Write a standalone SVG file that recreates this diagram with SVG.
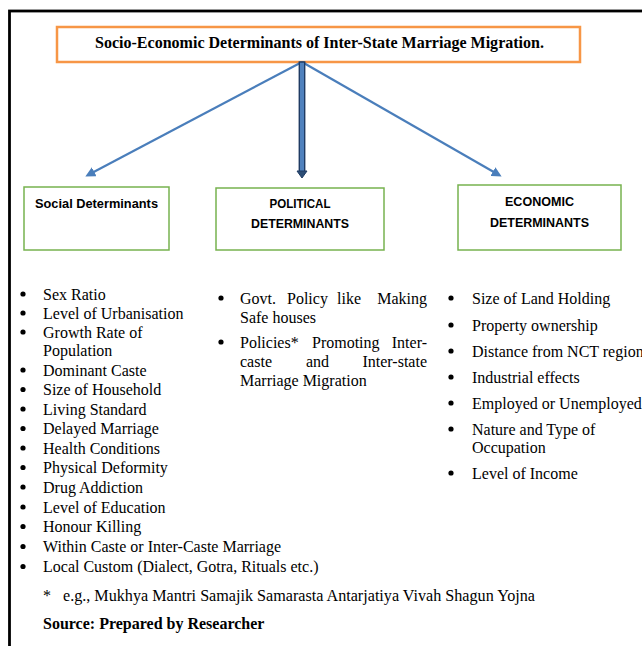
<svg xmlns="http://www.w3.org/2000/svg" width="642" height="646" viewBox="0 0 642 646">
<style>
.t{font-family:"Liberation Serif","Times New Roman",serif;font-size:16px;fill:#000}
.b{font-weight:bold}
.h{font-family:"Liberation Sans",Arial,sans-serif;font-size:12.5px;font-weight:bold;fill:#000;text-anchor:middle}
.box{fill:#fff;stroke:#77B24F;stroke-width:1.5}
.ln{stroke:#4A7EBB;stroke-width:2.2;fill:none}
</style>
<defs>
<marker id="ah" markerWidth="10" markerHeight="10" refX="7" refY="5" orient="auto" markerUnits="userSpaceOnUse"><path d="M0,0 L10,5 L0,10 Z" fill="#4A7EBB"/></marker>
</defs>
<rect x="0" y="0" width="642" height="646" fill="#fff"/>
<rect x="9.5" y="11" width="700" height="700" fill="none" stroke="#000" stroke-width="2.8"/>
<g id="title">
<rect x="57" y="27" width="523" height="35" fill="#fff" stroke="#F79646" stroke-width="2.5"/>
<text class="t b" x="319.5" y="48" text-anchor="middle" font-size="17" textLength="449" lengthAdjust="spacingAndGlyphs">Socio-Economic Determinants of Inter-State Marriage Migration.</text>
</g>
<g id="connectors">
<line class="ln" x1="302" y1="62" x2="88" y2="175" marker-end="url(#ah)"/>
<line class="ln" x1="302" y1="62" x2="499" y2="175" marker-end="url(#ah)"/>
<rect x="299.3" y="62" width="5.4" height="110" fill="#4F81BD" stroke="#1F3B63" stroke-width="1.4"/>
<path d="M297,171 L307,171 L302,178 Z" fill="#2C4D75" stroke="#1F3B63" stroke-width="1"/>
</g>
<g id="social">
<rect class="box" x="24" y="187" width="145" height="63"/>
<text class="h" x="96.5" y="208" textLength="123" lengthAdjust="spacingAndGlyphs">Social Determinants</text>
</g>
<g id="political">
<rect class="box" x="216" y="188" width="168" height="62"/>
<text class="h" x="300" y="208" textLength="61" lengthAdjust="spacingAndGlyphs">POLITICAL</text>
<text class="h" x="300" y="228" textLength="98" lengthAdjust="spacingAndGlyphs">DETERMINANTS</text>
</g>
<g id="economic">
<rect class="box" x="458" y="185" width="163" height="65"/>
<text class="h" x="539.5" y="206" textLength="69" lengthAdjust="spacingAndGlyphs">ECONOMIC</text>
<text class="h" x="539.5" y="227" textLength="99" lengthAdjust="spacingAndGlyphs">DETERMINANTS</text>
</g>
<g id="social-list" fill="#000">
<circle cx="23" cy="294" r="2.6"/><text class="t" x="43" y="299.5">Sex Ratio</text>
<circle cx="23" cy="313" r="2.6"/><text class="t" x="43" y="318.5">Level of Urbanisation</text>
<circle cx="23" cy="332" r="2.6"/><text class="t" x="43" y="337.5">Growth Rate of</text>
<text class="t" x="43" y="356">Population</text>
<circle cx="23" cy="370" r="2.6"/><text class="t" x="43" y="375.5">Dominant Caste</text>
<circle cx="23" cy="389.5" r="2.6"/><text class="t" x="43" y="395">Size of Household</text>
<circle cx="23" cy="409" r="2.6"/><text class="t" x="43" y="414.5">Living Standard</text>
<circle cx="23" cy="428.5" r="2.6"/><text class="t" x="43" y="434">Delayed Marriage</text>
<circle cx="23" cy="448" r="2.6"/><text class="t" x="43" y="453.5">Health Conditions</text>
<circle cx="23" cy="467.5" r="2.6"/><text class="t" x="43" y="473">Physical Deformity</text>
<circle cx="23" cy="487" r="2.6"/><text class="t" x="43" y="492.5">Drug Addiction</text>
<circle cx="23" cy="507" r="2.6"/><text class="t" x="43" y="512.5">Level of Education</text>
<circle cx="23" cy="526.5" r="2.6"/><text class="t" x="43" y="532">Honour Killing</text>
<circle cx="23" cy="546.5" r="2.6"/><text class="t" x="43" y="552">Within Caste or Inter-Caste Marriage</text>
<circle cx="23" cy="566.5" r="2.6"/><text class="t" x="43" y="572">Local Custom (Dialect, Gotra, Rituals etc.)</text>
</g>
<g id="political-list" fill="#000">
<circle cx="221" cy="298" r="2.6"/>
<text class="t" y="303.5"><tspan x="240">Govt.</tspan><tspan x="287">Policy</tspan><tspan x="337">like</tspan><tspan x="427" text-anchor="end">Making</tspan></text>
<text class="t" x="240" y="322.5">Safe houses</text>
<circle cx="221" cy="342" r="2.6"/>
<text class="t" y="347.5"><tspan x="240">Policies*</tspan><tspan x="312">Promoting</tspan><tspan x="427" text-anchor="end">Inter-</tspan></text>
<text class="t" y="367"><tspan x="240">caste</tspan><tspan x="306">and</tspan><tspan x="427" text-anchor="end">Inter-state</tspan></text>
<text class="t" x="240" y="386">Marriage Migration</text>
</g>
<g id="economic-list" fill="#000">
<circle cx="451" cy="298" r="2.6"/><text class="t" x="472" y="303.5">Size of Land Holding</text>
<circle cx="451" cy="325" r="2.6"/><text class="t" x="472" y="330.5">Property ownership</text>
<circle cx="451" cy="351" r="2.6"/><text class="t" x="472" y="356.5">Distance from NCT region</text>
<circle cx="451" cy="377" r="2.6"/><text class="t" x="472" y="382.5">Industrial effects</text>
<circle cx="451" cy="403" r="2.6"/><text class="t" x="472" y="408.5">Employed or Unemployed</text>
<circle cx="451" cy="429" r="2.6"/><text class="t" x="472" y="434.5">Nature and Type of</text>
<text class="t" x="472" y="452.5">Occupation</text>
<circle cx="451" cy="473" r="2.6"/><text class="t" x="472" y="478.5">Level of Income</text>
</g>
<g id="notes">
<text class="t" x="43" y="601">*</text>
<text class="t" x="63" y="601" textLength="472" lengthAdjust="spacingAndGlyphs">e.g., Mukhya Mantri Samajik Samarasta Antarjatiya Vivah Shagun Yojna</text>
<text class="t b" x="43" y="629">Source: Prepared by Researcher</text>
</g>
</svg>
